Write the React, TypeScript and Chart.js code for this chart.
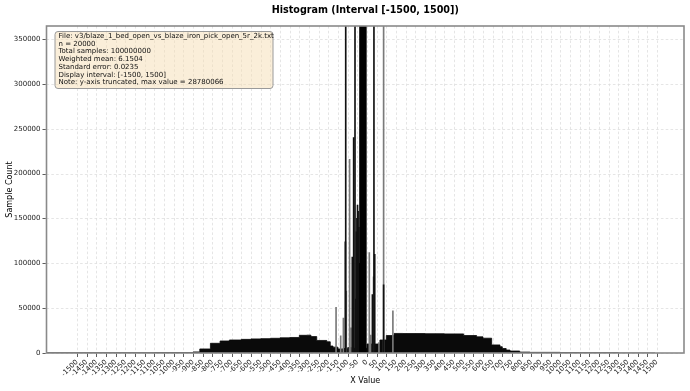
import React, { useEffect, useRef } from "react";
import { Chart, registerables } from "chart.js";

Chart.register(...registerables);

const titleText = "Histogram (Interval [-1500, 1500])";
const xAxisTitle = "X Value";
const yAxisTitle = "Sample Count";
const infoLines = [
  "File: v3/blaze_1_bed_open_vs_blaze_iron_pick_open_5r_2k.txt",
  "n = 20000",
  "Total samples: 100000000",
  "Weighted mean: 6.1504",
  "Standard error: 0.0235",
  "Display interval: [-1500, 1500]",
  "Note: y-axis truncated, max value = 28780066",
];

const xTickValues = [
  -1500, -1450, -1400, -1350, -1300, -1250, -1200, -1150, -1100, -1050, -1000,
  -950, -900, -850, -800, -750, -700, -650, -600, -550, -500, -450, -400, -350,
  -300, -250, -200, -150, -100, -50, 0, 50, 100, 150, 200, 250, 300, 350, 400,
  450, 500, 550, 600, 650, 700, 750, 800, 850, 900, 950, 1000, 1050, 1100, 1150,
  1200, 1250, 1300, 1350, 1400, 1450, 1500,
];
const yTickValues = [0, 50000, 100000, 150000, 200000, 250000, 300000, 350000];

// broad body of the histogram (bin start, count)
const bulkX = [
  -1658, -1508, -1300, -1100, -900, -865, -810, -760, -712, -650, -600, -550, -500,
  -450, -400, -350, -312, -290, -260, -208, -190, -176, -150, -124, -100, -80,
  0, 67, 100, 140, 186, 300, 400, 500, 567, 600, 645, 688, 700, 720, 740, 790,
  843, 1000, 1100, 1300, 1490,
];
const bulkY = [
  200, 250, 300, 350, 500, 1200, 4500, 10800, 13400, 14500, 15200, 15700, 16000,
  16400, 16900, 17300, 19700, 19900, 18300, 14000, 12500, 7800, 6500, 4500,
  5000, 6000, 5200, 10000, 14500, 19500, 21800, 21700, 21500, 21300, 19500,
  18000, 16500, 9000, 7000, 5000, 3300, 2200, 1000, 700, 500, 400, 0,
];

// central very tall bins (truncated by the y-axis)
const coreX = [-35, -31, -27, -23, -19, -15, -11, -7];
const coreY = [900000, 3000000, 12000000, 28780066, 9000000, 4000000, 1500000, 800000];

// dark narrow spikes
const darkSpikeX = [
  -110, -112, -69, -76, -62, -58, -55, -52, -49, -46, -43, -40, -38, 28, 36, 40, 86,
];
const darkSpikeY = [
  700000, 124000, 240000, 107000, 600000, 60000, 135000, 150000, 165000, 158000,
  140000, 100000, 60000, 65000, 650000, 110000, 76000,
];

// lighter narrow spikes
const lightSpikeX = [-160, -136, -122, -107, -90, -83, 12, 19, 34, 62, 86, 134];
const lightSpikeY = [51000, 19000, 39000, 69000, 216000, 28000, 112000, 20000, 85000, 11500, 500000, 47000];

const X_MIN = -1658;
const X_MAX = 1640;
const Y_MAX = 364500;

const FONT = "DejaVu Sans";

function pts(xs: number[], ys: number[]) {
  return xs.map((x, i) => ({ x, y: ys[i] }));
}

const decorPlugin = {
  id: "decor",
  beforeDatasetsDraw(chart: any) {
    const { ctx, chartArea: a, scales } = chart;
    const x = scales.x;
    const y = scales.y;
    ctx.save();
    ctx.strokeStyle = "#dedede";
    ctx.lineWidth = 0.8;
    ctx.setLineDash([2.6, 2.2]);
    for (const v of xTickValues) {
      const px = Math.round(x.getPixelForValue(v)) + 0.5;
      ctx.beginPath();
      ctx.moveTo(px, a.top);
      ctx.lineTo(px, a.bottom);
      ctx.stroke();
    }
    for (const v of yTickValues) {
      const py = Math.round(y.getPixelForValue(v)) + 0.5;
      ctx.beginPath();
      ctx.moveTo(a.left, py);
      ctx.lineTo(a.right, py);
      ctx.stroke();
    }
    ctx.restore();
  },
  afterDatasetsDraw(chart: any) {
    const { ctx, chartArea: a, scales } = chart;
    const x = scales.x;
    const y = scales.y;
    ctx.save();
    // spines
    ctx.setLineDash([]);
    ctx.strokeStyle = "#8a8a8a";
    ctx.lineWidth = 1.6;
    ctx.strokeRect(a.left, a.top, a.right - a.left, a.bottom - a.top);
    // tick marks
    ctx.strokeStyle = "#333";
    ctx.lineWidth = 0.8;
    for (const v of xTickValues) {
      const px = Math.round(x.getPixelForValue(v)) + 0.5;
      ctx.beginPath();
      ctx.moveTo(px, a.bottom + 0.8);
      ctx.lineTo(px, a.bottom + 4);
      ctx.stroke();
    }
    for (const v of yTickValues) {
      const py = Math.round(y.getPixelForValue(v)) + 0.5;
      ctx.beginPath();
      ctx.moveTo(a.left - 0.8, py);
      ctx.lineTo(a.left - 4, py);
      ctx.stroke();
    }
    // info box
    const bx = 55, by = 31.5, bw = 218, bh = 57, r = 3;
    ctx.beginPath();
    ctx.moveTo(bx + r, by);
    ctx.lineTo(bx + bw - r, by);
    ctx.quadraticCurveTo(bx + bw, by, bx + bw, by + r);
    ctx.lineTo(bx + bw, by + bh - r);
    ctx.quadraticCurveTo(bx + bw, by + bh, bx + bw - r, by + bh);
    ctx.lineTo(bx + r, by + bh);
    ctx.quadraticCurveTo(bx, by + bh, bx, by + bh - r);
    ctx.lineTo(bx, by + r);
    ctx.quadraticCurveTo(bx, by, bx + r, by);
    ctx.closePath();
    ctx.fillStyle = "rgba(245,222,179,0.5)";
    ctx.fill();
    ctx.strokeStyle = "#9a9a9a";
    ctx.lineWidth = 1;
    ctx.stroke();
    ctx.fillStyle = "#111";
    ctx.font = `7px "${FONT}"`;
    ctx.textAlign = "left";
    ctx.textBaseline = "middle";
    infoLines.forEach((t, i) => ctx.fillText(t, 58.5, 36 + i * 7.75));
    // title
    const cx = (a.left + a.right) / 2;
    ctx.font = `bold 9.6px "${FONT}"`;
    ctx.textAlign = "center";
    ctx.fillStyle = "#000";
    ctx.fillText(titleText, cx, 10);
    // axis titles
    ctx.font = `8px "${FONT}"`;
    ctx.fillText(xAxisTitle, cx, 381);
    ctx.translate(10, (a.top + a.bottom) / 2);
    ctx.rotate(-Math.PI / 2);
    ctx.fillText(yAxisTitle, 0, 0);
    ctx.restore();
  },
};

export default function App() {
  const ref = useRef<HTMLCanvasElement | null>(null);
  useEffect(() => {
    document.body.style.margin = "0";
    const canvas = ref.current;
    if (!canvas) return;
    Chart.defaults.font.family = FONT;
    const chart = new Chart(canvas, {
      type: "bar",
      data: {
        datasets: [
          {
            type: "bar",
            data: pts(coreX, coreY),
            backgroundColor: "#000",
            borderWidth: 0,
            barThickness: 1.4,
            grouped: false,
            order: 0,
          } as any,
          {
            type: "bar",
            data: pts(darkSpikeX, darkSpikeY),
            backgroundColor: "#111",
            borderWidth: 0,
            barThickness: 1,
            grouped: false,
            order: 1,
          } as any,
          {
            type: "bar",
            data: pts(lightSpikeX, lightSpikeY),
            backgroundColor: "#7a7a7a",
            borderWidth: 0,
            barThickness: 1,
            grouped: false,
            order: 2,
          } as any,
          {
            type: "line",
            data: pts(bulkX, bulkY),
            stepped: "after",
            fill: "origin",
            backgroundColor: "#0a0a0a",
            borderColor: "#0a0a0a",
            borderWidth: 0.8,
            pointRadius: 0,
            order: 3,
          } as any,
        ],
      },
      options: {
        animation: false,
        responsive: false,
        maintainAspectRatio: false,
        devicePixelRatio: 1,
        events: [],
        layout: { padding: { top: 26, right: 6, left: 0, bottom: 0 } },
        plugins: {
          legend: { display: false },
          title: { display: false },
          tooltip: { enabled: false },
        },
        scales: {
          x: {
            type: "linear",
            min: X_MIN,
            max: X_MAX,
            offset: false,
            grid: { display: false, drawTicks: false },
            border: { display: false },
            afterBuildTicks: (s: any) => {
              s.ticks = xTickValues.map((value) => ({ value }));
            },
            afterFit: (s: any) => {
              s.height = 38;
            },
            ticks: {
              autoSkip: false,
              minRotation: 45,
              maxRotation: 45,
              padding: 5,
              color: "#222",
              font: { size: 7, family: FONT },
              callback: (v: any) => String(v),
            },
          },
          y: {
            type: "linear",
            min: 0,
            max: Y_MAX,
            grid: { display: false, drawTicks: false },
            border: { display: false },
            afterBuildTicks: (s: any) => {
              s.ticks = yTickValues.map((value) => ({ value }));
            },
            afterFit: (s: any) => {
              s.width = 46.5;
            },
            ticks: {
              padding: 6,
              color: "#222",
              font: { size: 7, family: FONT },
              callback: (v: any) => String(v),
            },
          },
        },
      } as any,
      plugins: [decorPlugin],
    });
    return () => chart.destroy();
  }, []);
  return (
    <div style={{ position: "fixed", left: 0, top: 0, width: 690, height: 391, background: "#fff" }}>
      <canvas ref={ref} width={690} height={391} style={{ width: 690, height: 391 }} />
    </div>
  );
}
